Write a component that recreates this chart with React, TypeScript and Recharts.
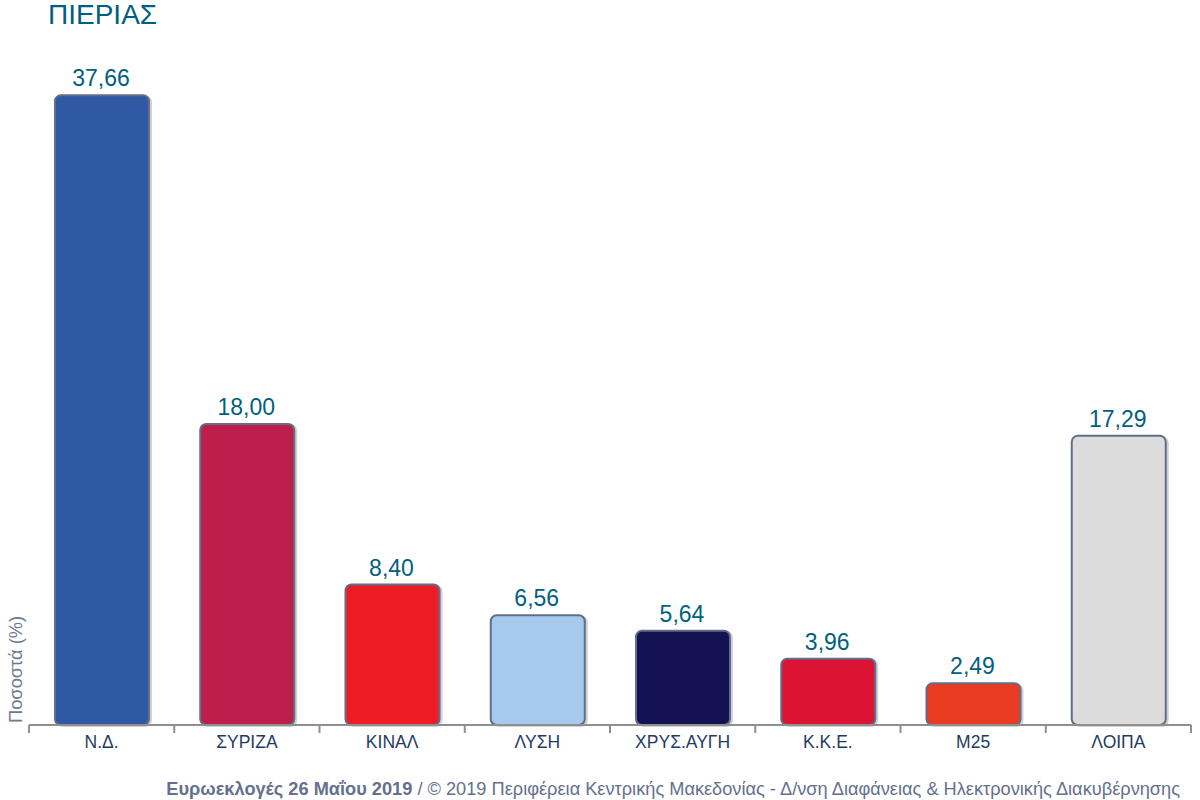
import { BarChart, Bar, Cell, LabelList, XAxis, YAxis } from "recharts"

const parties = ["Ν.Δ.", "ΣΥΡΙΖΑ", "ΚΙΝΑΛ", "ΛΥΣΗ", "ΧΡΥΣ.ΑΥΓΗ", "Κ.Κ.Ε.", "Μ25", "ΛΟΙΠΑ"]
const percentages = [37.66, 18.0, 8.4, 6.56, 5.64, 3.96, 2.49, 17.29]
const barColors = ["#3059a3", "#bd1f4a", "#ee1c25", "#a5caee", "#141253", "#dc1332", "#e93b20", "#dcdcdc"]

const data = parties.map((party, i) => ({ party, value: percentages[i] }))

const font = "'Liberation Sans', Arial, sans-serif"
const chartWidth = 1200
const chartHeight = 800
const margin = { top: 56, right: 9, bottom: 45, left: 29 }
const bandWidth = (chartWidth - margin.left - margin.right) / parties.length

// tick marks sit on the category boundaries, not under the label
function BoundaryTick({ x, y, payload, index }: any) {
  const left = x - bandWidth / 2
  const right = x + bandWidth / 2
  return (
    <g>
      <line x1={left} x2={left} y1={y - 8} y2={y} stroke="#8f8f8f" strokeWidth={2} />
      {index === parties.length - 1 && (
        <line x1={right} x2={right} y1={y - 8} y2={y} stroke="#8f8f8f" strokeWidth={2} />
      )}
      <text x={x} y={y + 15} textAnchor="middle" fontSize={17.5} fontFamily={font} fill="#1f3b63">
        {payload.value}
      </text>
    </g>
  )
}

export default function App() {
  return (
    <div style={{ position: "absolute", left: 0, top: 0, width: chartWidth, height: chartHeight }}>
      <BarChart width={chartWidth} height={chartHeight} data={data} margin={margin}>
        <XAxis
          dataKey="party"
          interval={0}
          height={30}
          axisLine={{ stroke: "#8f8f8f", strokeWidth: 2 }}
          tickLine={false}
          tick={<BoundaryTick />}
        />
        <YAxis hide domain={[0, 40]} />
        <Bar
          dataKey="value"
          barSize={94}
          radius={6}
          stroke="#626d8c"
          strokeWidth={2}
          isAnimationActive={false}
          style={{ filter: "drop-shadow(2px 1px 0.5px rgba(0,0,0,0.18))" }}
        >
          {barColors.map((color) => (
            <Cell key={color} fill={color} />
          ))}
          <LabelList
            dataKey="value"
            position="top"
            offset={9}
            dx={-1}
            fontSize={23}
            fontFamily={font}
            fill="#005f7f"
            formatter={(v: number) => v.toFixed(2).replace(".", ",")}
          />
        </Bar>
        <text x={48} y={24} fontSize={28} fontFamily={font} fill="#005f7f">
          ΠΙΕΡΙΑΣ
        </text>
        <text
          transform="translate(22 723) rotate(-90)"
          fontSize={18.3}
          fontFamily={font}
          fill="#6d7891"
        >
          Ποσοστά (%)
        </text>
        <text x={1180} y={795} textAnchor="end" fontSize={18.22} fontFamily={font} fill="#64708e">
          <tspan fontWeight="bold">Ευρωεκλογές 26 Μαΐου 2019</tspan>
          {" / © 2019 Περιφέρεια Κεντρικής Μακεδονίας - Δ/νση Διαφάνειας & Ηλεκτρονικής Διακυβέρνησης"}
        </text>
      </BarChart>
    </div>
  )
}
